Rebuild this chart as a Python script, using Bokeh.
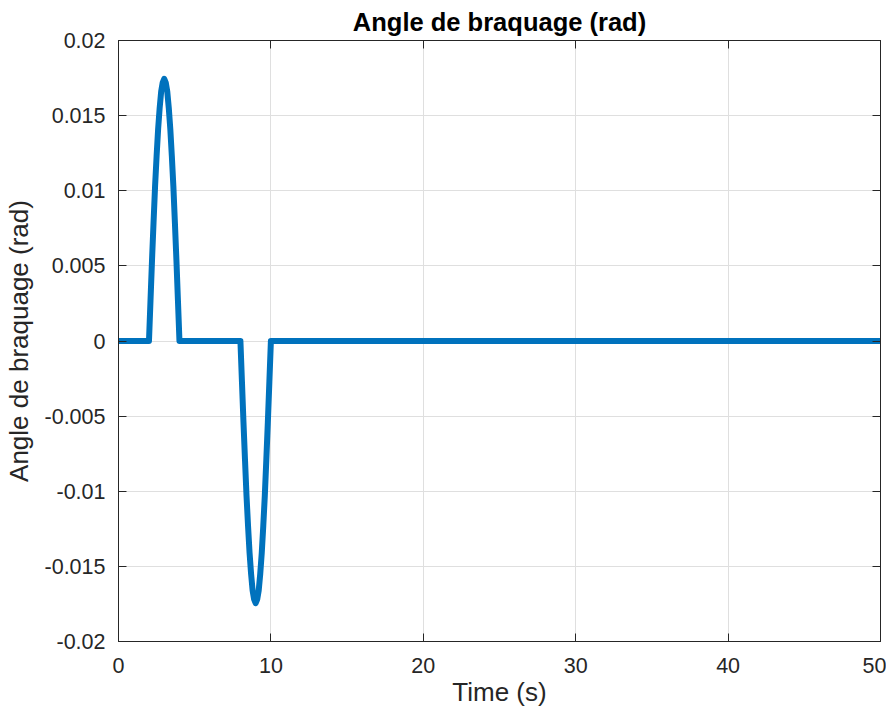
from bokeh.plotting import figure
from bokeh.models import LinearAxis, FixedTicker, CustomJSTickFormatter, Range1d, ColumnDataSource
from bokeh.embed import file_html
from bokeh.resources import INLINE

# ---- data ----
time_s = [0.0,
          2.0, 2.1, 2.2, 2.3, 2.4, 2.5, 2.6, 2.7, 2.8, 2.9, 3.0,
          3.1, 3.2, 3.3, 3.4, 3.5, 3.6, 3.7, 3.8, 3.9, 4.0,
          8.0, 8.1, 8.2, 8.3, 8.4, 8.5, 8.6, 8.7, 8.8, 8.9, 9.0,
          9.1, 9.2, 9.3, 9.4, 9.5, 9.6, 9.7, 9.8, 9.9, 10.0,
          50.0]
angle_rad = [0.0,
             0.0, 0.0027, 0.0054, 0.0079, 0.0103, 0.0123, 0.0141, 0.0155, 0.0166, 0.0172, 0.01745,
             0.0172, 0.0166, 0.0155, 0.0141, 0.0123, 0.0103, 0.0079, 0.0054, 0.0027, 0.0,
             0.0, -0.0027, -0.0054, -0.0079, -0.0103, -0.0123, -0.0141, -0.0155, -0.0166, -0.0172, -0.01745,
             -0.0172, -0.0166, -0.0155, -0.0141, -0.0123, -0.0103, -0.0079, -0.0054, -0.0027, 0.0,
             0.0]
x_ticks = [0, 10, 20, 30, 40, 50]
y_ticks = [-0.02, -0.015, -0.01, -0.005, 0.0, 0.005, 0.01, 0.015, 0.02]

title_text = "Angle de braquage (rad)"
x_label = "Time (s)"
y_label = "Angle de braquage (rad)"

FONT = "Liberation Sans"
AX = "#262626"
GRID = "#dfdfdf"
LINE = "#0072BD"

src = ColumnDataSource(data=dict(t=time_s, a=angle_rad))

p = figure(width=886, height=714, output_backend="svg", toolbar_location=None,
           x_range=Range1d(0, 50), y_range=Range1d(-0.02, 0.02),
           min_border_left=118, min_border_right=6, min_border_top=40, min_border_bottom=73,
           background_fill_color="white", border_fill_color="white")

p.line("t", "a", source=src, line_color=LINE, line_width=6, line_join="round")

p.outline_line_color = AX
p.outline_line_width = 1
p.outline_line_alpha = 1

fmt = CustomJSTickFormatter(code="""
let s = tick.toFixed(3);
if (s.indexOf('.') >= 0) { s = s.replace(/0+$/, '').replace(/\\.$/, ''); }
if (s === '-0') { s = '0'; }
return s;
""")
blank = CustomJSTickFormatter(code="return '';")

xt = FixedTicker(ticks=x_ticks)
yt = FixedTicker(ticks=y_ticks)

for ax in p.xaxis:
    ax.ticker = xt
for ax in p.yaxis:
    ax.ticker = yt
    ax.formatter = fmt

for ax in list(p.xaxis) + list(p.yaxis):
    ax.major_tick_in = 8
    ax.major_tick_out = 0
    ax.minor_tick_line_color = None
    ax.major_tick_line_color = AX
    ax.axis_line_color = AX
    ax.major_label_text_font = FONT
    ax.major_label_text_font_size = "21.5px"
    ax.major_label_text_color = AX
    ax.axis_label_text_font = FONT
    ax.axis_label_text_font_size = "26px"
    ax.axis_label_text_font_style = "normal"
    ax.axis_label_text_color = AX

p.xaxis.axis_label = x_label
p.yaxis.axis_label = y_label
p.xaxis.major_label_standoff = 16
p.yaxis.major_label_standoff = 13
p.xaxis.axis_label_standoff = 1
p.yaxis.axis_label_standoff = 8

top_ax = LinearAxis(ticker=xt, formatter=blank, major_label_standoff=0,
                    major_tick_in=8, major_tick_out=0, minor_tick_line_color=None,
                    major_tick_line_color=AX, axis_line_color=AX)
right_ax = LinearAxis(ticker=yt, formatter=blank, major_label_standoff=0,
                      major_tick_in=8, major_tick_out=0, minor_tick_line_color=None,
                      major_tick_line_color=AX, axis_line_color=AX)
p.add_layout(top_ax, "above")
p.add_layout(right_ax, "right")

p.xgrid.ticker = xt
p.ygrid.ticker = yt
p.grid.grid_line_color = GRID
p.grid.grid_line_width = 1

p.title.text = title_text
p.title.align = "center"
p.title.text_font = FONT
p.title.text_font_size = "25.5px"
p.title.text_font_style = "bold"
p.title.text_color = "black"

open("out.html", "w").write(file_html(p, INLINE))
